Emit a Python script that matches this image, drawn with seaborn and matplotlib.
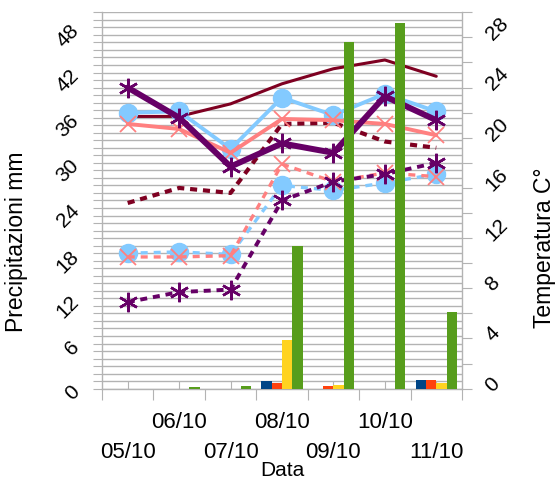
import numpy as np
import pandas as pd
import matplotlib
matplotlib.use('Agg')
import matplotlib.pyplot as plt
from matplotlib.ticker import MultipleLocator, FixedLocator, NullFormatter
import seaborn as sns

sns.set_style('white')
plt.rcParams['font.family'] = ['Liberation Sans', 'DejaVu Sans']
plt.rcParams['text.color'] = 'black'
plt.rcParams['xtick.labelcolor'] = 'black'
plt.rcParams['ytick.labelcolor'] = 'black'

GRID = '#b3b3b3'

# ─── DATA ────────────────────────────────────────────────────────────────────
dates = ['05/10', '06/10', '07/10', '08/10', '09/10', '10/10', '11/10']

# precipitazioni (mm) - asse sinistro
stazioni = ['Stazione 1', 'Stazione 2', 'Stazione 3', 'Stazione 4']
prec_1 = [0, 0, 0, 1.0, 0, 0, 1.1]
prec_2 = [0, 0, 0, 0.8, 0.3, 0, 1.2]
prec_3 = [0, 0, 0, 6.5, 0.5, 0, 0.8]
prec_4 = [0, 0.2, 0.35, 19.0, 46.0, 48.6, 10.2]
bar_colors = ['#004586', '#ff420e', '#ffd320', '#579d1c']

# temperature (C°) - asse destro
tmax_1 = [21.7, 21.7, 22.7, 24.3, 25.5, 26.2, 24.9]
tmin_1 = [14.8, 16.0, 15.6, 21.1, 21.2, 19.7, 19.2]
tmax_2 = [22.0, 22.1, 19.1, 23.2, 21.8, 23.5, 22.1]
tmin_2 = [10.8, 10.9, 10.7, 16.2, 15.8, 16.4, 17.1]
tmax_3 = [21.1, 20.7, 18.8, 21.5, 21.4, 21.1, 20.2]
tmin_3 = [10.5, 10.5, 10.6, 17.9, 16.5, 17.2, 16.9]
tmax_4 = [24.0, 21.6, 17.7, 19.55, 18.8, 23.3, 21.4]
tmin_4 = [6.9, 7.7, 7.9, 15.0, 16.5, 17.1, 18.0]

# ─── FIGURE ──────────────────────────────────────────────────────────────────
fig = plt.figure(figsize=(5.57, 4.82), dpi=100)
ax = fig.add_axes([0.1831, 0.1936, 0.6463, 0.7809])   # griglia + asse mm
ax_t = ax.twinx()                                      # temperature
ax_b = ax.twinx()                                      # barre sopra le linee

# lines (temperature)
x = np.arange(len(dates))
STAR = (6, 2, 0)
line_specs = [
    (tmax_1, '#7e0021', '-', None, 2.2, 0, 0),
    (tmin_1, '#7e0021', (0, (1.7, 1.4)), None, 3.0, 0, 0),
    (tmax_2, '#83caff', '-', 'o', 2.8, 13, 1),
    (tmin_2, '#83caff', (0, (2.1, 1.8)), 'o', 2.4, 13, 1),
    (tmax_3, '#ff8080', '-', 'x', 2.8, 11, 1.3),
    (tmin_3, '#ff8080', (0, (2.1, 1.8)), 'x', 2.4, 11, 1.3),
    (tmax_4, '#660066', '-', STAR, 4.3, 14, 1.8),
    (tmin_4, '#660066', (0, (1.8, 1.5)), STAR, 2.8, 14, 1.8),
]
for vals, col, ls, mk, lw, ms, mew in line_specs:
    sns.lineplot(x=x, y=vals, ax=ax_t, color=col, linestyle=ls, linewidth=lw,
                 marker=mk, markersize=ms, markeredgewidth=mew,
                 markeredgecolor=col, markerfacecolor=col)

# bars (precipitazioni)
df = pd.DataFrame({
    'data': dates * 4,
    'stazione': np.repeat(stazioni, len(dates)),
    'mm': prec_1 + prec_2 + prec_3 + prec_4,
})
sns.barplot(data=df, x='data', y='mm', hue='stazione', palette=bar_colors,
            saturation=1, width=0.8, edgecolor='none', linewidth=0,
            legend=False, ax=ax_b)

# ─── AXES ────────────────────────────────────────────────────────────────────
ax.set_xlim(-0.5, 6.5)
for a in (ax, ax_b):
    a.set_ylim(0, 50)
ax_t.set_ylim(0, 30)

ax_b.set_yticks([])
ax_b.set_ylabel('')
ax_b.set_xlabel('')
ax_t.set_xlabel('')
for a in (ax_t, ax_b):
    for s in a.spines.values():
        s.set_visible(False)

for name, s in ax.spines.items():
    s.set_color(GRID)
    s.set_linewidth(1)
    s.set_visible(name != 'top')

# left axis: mm
ax.yaxis.set_major_locator(FixedLocator(range(0, 49, 6)))
ax.yaxis.set_minor_locator(MultipleLocator(1))
ax.grid(which='both', axis='y', color=GRID, linewidth=1)
ax.grid(False, axis='x')
ax.tick_params(axis='y', which='both', left=True, direction='out', length=6.5,
               width=0.8, color=GRID, labelsize=15, pad=12)
for lab in ax.get_yticklabels():
    lab.set_rotation(45)
    lab.set_ha('right')
    lab.set_va('center')
    lab.set_rotation_mode('anchor')

# right axis: temperature
ax_t.yaxis.set_major_locator(FixedLocator(range(0, 29, 4)))
ax_t.yaxis.set_minor_locator(MultipleLocator(2))
ax_t.tick_params(axis='y', which='both', right=True, direction='out', length=7.2,
                 width=0.8, color=GRID, labelsize=15, pad=12)
for lab in ax_t.get_yticklabels():
    lab.set_rotation(45)
    lab.set_ha('left')
    lab.set_va('center')
    lab.set_rotation_mode('anchor')
ax_t.set_ylabel('')

# x axis: boundaries out, centers in with labels on two rows
ax.set_xticks(np.arange(-0.5, 7, 1))
ax.xaxis.set_major_formatter(NullFormatter())
ax.set_xticks(x, minor=True)
ax.set_xticklabels(dates, minor=True)
ax.tick_params(axis='x', which='major', bottom=True, direction='out', length=8,
               width=0.8, color=GRID)
ax.tick_params(axis='x', which='minor', bottom=True, direction='in', length=5.8,
               width=0.8, color=GRID, labelsize=16)
ax.set_xlabel('')
ax.set_ylabel('')
for i, t in enumerate(ax.xaxis.get_minor_ticks()):
    t.set_pad(38.5 if i % 2 == 0 else 16.5)

fig.text(17 / 557, 1 - 242 / 482, 'Precipitazioni mm', rotation=90,
         ha='center', va='center', fontsize=16.5)
fig.text(545 / 557, 1 - 248 / 482, 'Temperatura C°', rotation=90,
         ha='center', va='center', fontsize=16.5)
fig.text(282 / 557, 1 - 471 / 482, 'Data', ha='center', va='center', fontsize=15)

fig.savefig('out.png', dpi=100, facecolor='white')
